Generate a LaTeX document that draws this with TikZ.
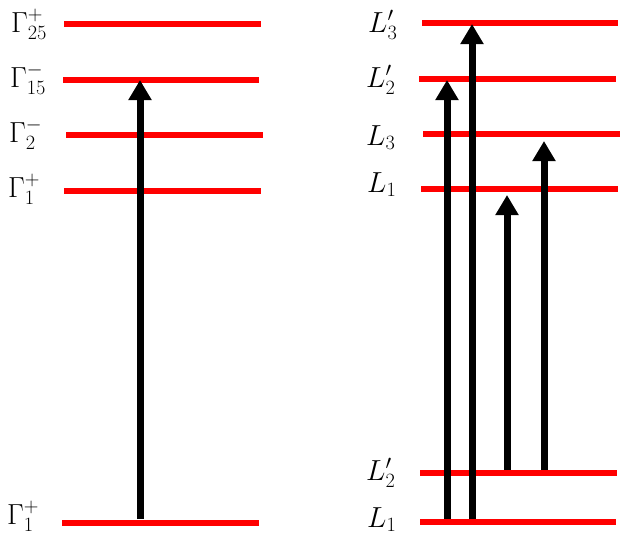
\RequirePackage{fix-cm}
\documentclass[tikz,border=0pt]{standalone}
\usepackage{amsmath}
\usepackage{amssymb}
\usetikzlibrary{arrows.meta}

\begin{document}
\begin{tikzpicture}[x=1pt,y=-1pt,
	level/.style={red,line width=6.5pt},
	jump/.style={line width=7pt,-{Triangle[width=22pt,length=20pt]}},
	lab/.style={anchor=base west,inner sep=0pt,font=\fontsize{29}{31}\selectfont}]
\useasboundingbox (0,0) rectangle (624,536);

\coordinate (g25a) at (64,24); \coordinate (g25b) at (261,24);
\coordinate (g15a) at (63,80); \coordinate (g15b) at (259,80);
\coordinate (g2a) at (66,135); \coordinate (g2b) at (263,135);
\coordinate (g1a) at (64,191); \coordinate (g1b) at (261,191);
\coordinate (g0a) at (62,523); \coordinate (g0b) at (259,523);
\coordinate (l3pa) at (422,23); \coordinate (l3pb) at (618,23);
\coordinate (l2pa) at (419,79); \coordinate (l2pb) at (616,79);
\coordinate (l3a) at (423,134); \coordinate (l3b) at (620,134);
\coordinate (l1a) at (421,189); \coordinate (l1b) at (618,189);
\coordinate (m2pa) at (420,473); \coordinate (m2pb) at (617,473);
\coordinate (m1a) at (420,522); \coordinate (m1b) at (616,522);

\foreach \a/\b in {g25a/g25b,g15a/g15b,g2a/g2b,g1a/g1b,g0a/g0b,l3pa/l3pb,l2pa/l2pb,l3a/l3b,l1a/l1b,m2pa/m2pb,m1a/m1b}
	\draw[level] (\a) -- (\b);

\node[lab] (g25) at (11,32) {$\Gamma^{+}_{25}$};
\node[lab] (g15) at (10,87) {$\Gamma^{-}_{15}$};
\node[lab] (g2) at (9,142) {$\Gamma^{-}_{2}$};
\node[lab] (g1) at (8,197) {$\Gamma^{+}_{1}$};
\node[lab] (g0) at (7,524) {$\Gamma^{+}_{1}$};
\node[lab] (l3p) at (368,32) {$L'_{3}$};
\node[lab] (l2p) at (366,87) {$L'_{2}$};
\node[lab] (l3) at (366,145) {$L_{3}$};
\node[lab] (l1) at (367,192) {$L_{1}$};
\node[lab] (m2p) at (366,480) {$L'_{2}$};
\node[lab] (m1) at (367,527) {$L_{1}$};

\coordinate (s0) at (140,519); \coordinate (t0) at (140,80);
\coordinate (s1) at (447,519); \coordinate (t1) at (447,80);
\coordinate (s2) at (472,519); \coordinate (t2) at (472,24);
\coordinate (s3) at (507,470); \coordinate (t3) at (507,195);
\coordinate (s4) at (544,470); \coordinate (t4) at (544,141);
\foreach \i in {0,...,4}
	\draw[jump] (s\i) -- (t\i);
\end{tikzpicture}
\end{document}
